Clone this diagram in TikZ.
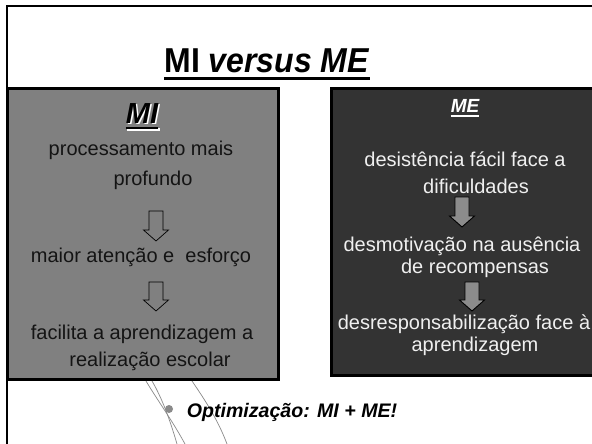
\documentclass[tikz,border=0pt]{standalone}
\usepackage{fontspec}
\setmainfont{Liberation Sans}
\usetikzlibrary{calc}
\definecolor{migray}{HTML}{808080}
\definecolor{medark}{HTML}{333333}
\definecolor{arrgray}{HTML}{8C8C8C}
\definecolor{curvegray}{HTML}{8A8A8A}
\newcommand\dnarrow[4]{% cx, top, bottom, style
  \draw[#4] ({#1-7},#2) -- ({#1+7},#2) -- ({#1+7},{#3-11}) -- ({#1+12.5},{#3-11})
    -- (#1,#3) -- ({#1-12.5},{#3-11}) -- ({#1-7},{#3-11}) -- cycle;}
\tikzset{
  lt/.style={anchor=base, inner sep=0pt, text=black!92, font=\fontsize{20}{24}\selectfont},
  rt/.style={anchor=base, inner sep=0pt, text=white!94!black, font=\fontsize{20}{24}\selectfont},
  leftarr/.style={fill=migray, draw=black, line width=0.7pt},
  rightarr/.style={fill=arrgray, draw=black, line width=0.9pt},
  boxstyle/.style={draw=black, line width=3pt},
  deco/.style={draw=curvegray, line width=0.7pt}
}
\begin{document}
\begin{tikzpicture}[x=1pt,y=-1pt]
\useasboundingbox (0,0) rectangle (592,444);
\clip (0,0) rectangle (592,444);
\fill[white] (0,0) rectangle (592,444);
% outer slide frame
\draw[line width=2pt] (7,444) -- (7,6) -- (600,6);
% title
\node[anchor=base, inner sep=0pt, font=\fontsize{32}{38}\selectfont\bfseries] (title) at (267,73) {\scalebox{1}[1.08]{MI \textit{versus ME}}};
\draw[line width=3pt] ($(title.base west)+(0,6)$) -- ($(title.base east)+(0,6)$);
% boxes
\draw[boxstyle, fill=migray] (7,89) rectangle (278,379);
\draw[boxstyle, fill=medark] (331,89) rectangle (602,375);
% MI header with white shadow
\node[anchor=base, inner sep=0pt, text=white, font=\fontsize{29}{34}\selectfont\bfseries\itshape] (mishadow) at (143.5,124.5) {MI};
\node[anchor=base, inner sep=0pt, text=black, font=\fontsize{29}{34}\selectfont\bfseries\itshape] (mihead) at (142,123) {MI};
\draw[white, line width=2.5pt] ($(mishadow.base west)+(0,5)$) -- ($(mishadow.base east)+(0,5)$);
\draw[black, line width=2.5pt] ($(mihead.base west)+(0,5)$) -- ($(mihead.base east)+(0,5)$);
% ME header
\node[anchor=base, inner sep=0pt, text=white, font=\fontsize{19}{23}\selectfont\bfseries\itshape] (mehead) at (465,113) {ME};
\draw[white, line width=1.8pt] ($(mehead.base west)+(0,3.2)$) -- ($(mehead.base east)+(0,3.2)$);
% left texts
\node[lt] (l1) at (141,155) {processamento mais};
\node[lt] (l2) at (153,185) {profundo};
\node[lt] (l3) at (141,262) {maior atenção e\ \ esforço};
\node[lt] (l4) at (142,339) {facilita a aprendizagem a};
\node[lt] (l5) at (150,366) {realização escolar};
\dnarrow{156}{211}{241}{leftarr}
\dnarrow{156}{282}{311}{leftarr}
% right texts
\node[rt] (r1) at (465,166) {desistência fácil face a};
\node[rt] (r2) at (476,193) {dificuldades};
\node[rt] (r3) at (462,251) {desmotivação na ausência};
\node[rt] (r4) at (475,273) {de recompensas};
\node[rt] (r5) at (464,329) {desresponsabilização face à};
\node[rt] (r6) at (475,351) {aprendizagem};
\dnarrow{462}{197}{227}{rightarr}
\dnarrow{472}{282}{311}{rightarr}
% decorative curves
\draw[deco] (146,381) .. controls (156,398) and (172,420) .. (185,444);
\draw[deco] (152,381) .. controls (162,398) and (170,420) .. (177,444);
\draw[deco] (192,381) .. controls (205,400) and (218,420) .. (227,444);
\fill[curvegray] (169,409) circle (4);
% bottom text
\node[anchor=base, inner sep=0pt, font=\fontsize{19.6}{23}\selectfont\bfseries\itshape] (opt) at (292,417) {Optimização: MI + ME!};
\end{tikzpicture}
\end{document}
